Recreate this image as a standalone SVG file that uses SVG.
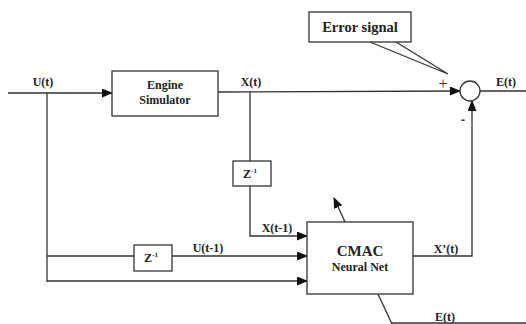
<svg xmlns="http://www.w3.org/2000/svg" width="526" height="324" viewBox="0 0 526 324">
<defs>
<marker id="ah" markerWidth="11" markerHeight="9" refX="10" refY="4.5" orient="auto" markerUnits="userSpaceOnUse">
<path d="M0,0 L11,4.5 L0,9 Z" fill="#111"/>
</marker>
<style>
.ln{stroke:#333;stroke-width:1.3;fill:none}
.bx{stroke:#333;stroke-width:1.3;fill:#fff}
.t{font-family:"Liberation Serif",serif;font-weight:bold;fill:#222;font-size:12px;text-anchor:middle}
</style>
</defs>
<rect width="526" height="324" fill="#fff"/>
<g id="connectors">
<line class="ln" x1="8" y1="93" x2="112" y2="93" marker-end="url(#ah)"/>
<line class="ln" x1="218" y1="92" x2="460" y2="91" marker-end="url(#ah)"/>
<line class="ln" x1="480" y1="91" x2="526" y2="91"/>
<line class="ln" x1="47" y1="93" x2="47" y2="282"/>
<line class="ln" x1="47" y1="256" x2="134" y2="256"/>
<line class="ln" x1="172" y1="256" x2="307" y2="256" marker-end="url(#ah)"/>
<line class="ln" x1="47" y1="281" x2="307" y2="281" marker-end="url(#ah)"/>
<line class="ln" x1="250" y1="92" x2="250" y2="161"/>
<polyline class="ln" points="250,186 250,236 307,236" marker-end="url(#ah)"/>
<polyline class="ln" points="413,256 472,256 472,101" marker-end="url(#ah)"/>
<line class="ln" x1="345" y1="222" x2="334" y2="198" marker-end="url(#ah)"/>
<line class="ln" x1="378" y1="294" x2="392" y2="324"/>
<line class="ln" x1="392" y1="323" x2="526" y2="323"/>
</g>
<g id="engine">
<rect class="bx" x="112" y="71" width="106" height="45"/>
<text class="t" x="165" y="89">Engine</text>
<text class="t" x="165" y="104">Simulator</text>
</g>
<g id="sum">
<circle cx="470" cy="91" r="10" fill="#fff" stroke="#333" stroke-width="1.3"/>
<text x="443" y="89" font-family="Liberation Serif,serif" font-size="16" fill="#333" text-anchor="middle">+</text>
<text x="463" y="124" font-family="Liberation Sans,sans-serif" font-weight="bold" font-size="12" fill="#333" text-anchor="middle">-</text>
</g>
<g id="error-signal">
<path d="M370,42 L448,74 L396,42" fill="none" stroke="#333" stroke-width="1.2"/>
<rect class="bx" x="309" y="12" width="102" height="30"/>
<text class="t" x="360" y="32" style="font-size:14.5px">Error signal</text>
</g>
<g id="z1-upper">
<rect class="bx" x="233" y="161" width="38" height="25"/>
<text class="t" x="250" y="178" style="font-size:12px">Z<tspan dy="-5" font-size="7">-1</tspan></text>
</g>
<g id="z1-lower">
<rect class="bx" x="134" y="245" width="38" height="26"/>
<text class="t" x="151" y="262" style="font-size:12px">Z<tspan dy="-5" font-size="7">-1</tspan></text>
</g>
<g id="cmac">
<rect class="bx" x="307" y="222" width="106" height="72"/>
<text class="t" x="360" y="256" style="font-size:15px">CMAC</text>
<text class="t" x="360" y="271" style="font-size:12px">Neural Net</text>
</g>
<g id="labels">
<text class="t" x="43" y="86">U(t)</text>
<text class="t" x="251" y="86">X(t)</text>
<text class="t" x="506" y="86">E(t)</text>
<text class="t" x="277" y="232">X(t-1)</text>
<text class="t" x="208" y="252">U(t-1)</text>
<text class="t" x="446" y="253">X’(t)</text>
<text class="t" x="445" y="321">E(t)</text>
</g>
</svg>
